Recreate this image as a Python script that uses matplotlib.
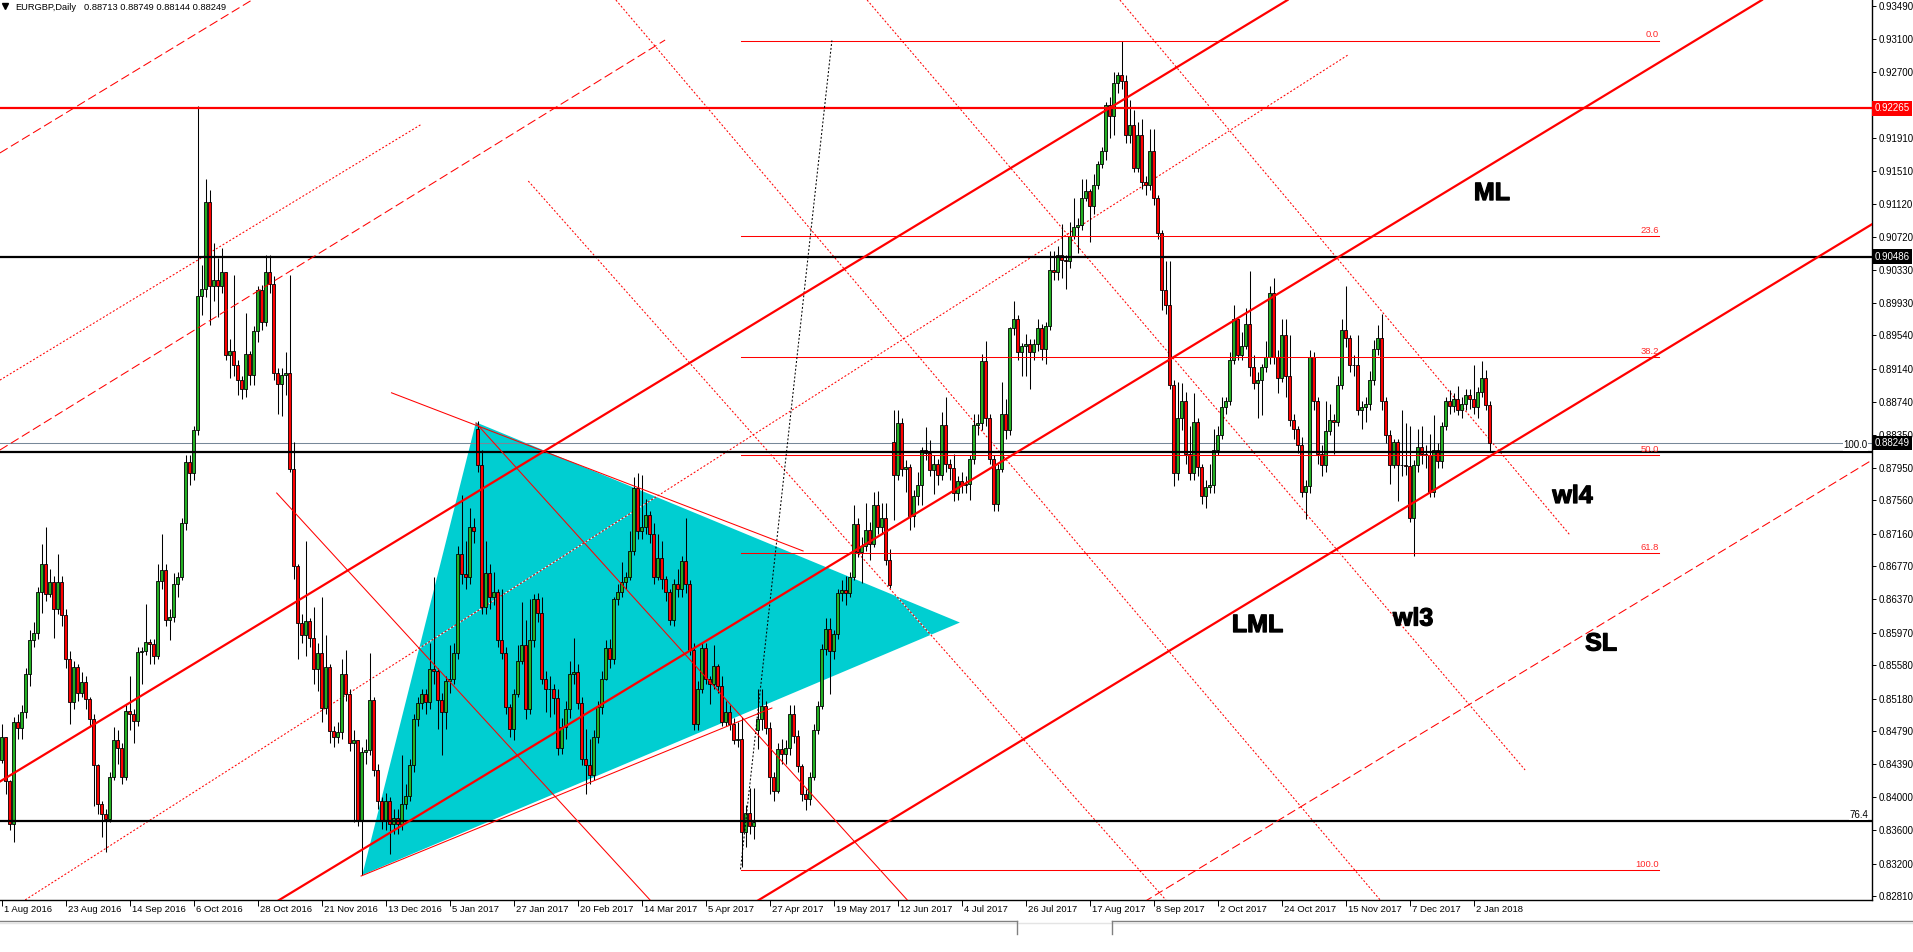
import numpy as np
import matplotlib
matplotlib.use("Agg")
import matplotlib.pyplot as plt
import matplotlib.patheffects as pe
from matplotlib.patches import Polygon
from matplotlib.lines import Line2D
from matplotlib.transforms import blended_transform_factory, offset_copy

plt.rcParams["font.family"] = ["Liberation Sans", "DejaVu Sans"]
plt.rcParams["lines.scale_dashes"] = False

# ---- EURGBP daily candles, prices in pips (x 1e-4) ----
first_open = 8444
closes = [
    8472, 8419, 8367, 8490, 8483, 8502, 8548, 8588, 8597, 8646,
    8680, 8643, 8658, 8625, 8658, 8618, 8566, 8514, 8556, 8525,
    8538, 8517, 8493, 8438, 8392, 8379, 8374, 8424, 8468, 8459,
    8424, 8503, 8499, 8491, 8574, 8575, 8586, 8584, 8569, 8659,
    8672, 8612, 8616, 8655, 8664, 8729, 8802, 8789, 8840, 9001,
    9010, 9114, 9013, 9021, 9013, 9030, 8931, 8935, 8918, 8901,
    8890, 8932, 8906, 8959, 9009, 8970, 9030, 9016, 8909, 8896,
    8906, 8909, 8794, 8677, 8609, 8594, 8611, 8591, 8554, 8573,
    8507, 8556, 8479, 8472, 8478, 8548, 8524, 8465, 8468, 8371,
    8454, 8456, 8516, 8432, 8395, 8371, 8395, 8368, 8375, 8368,
    8392, 8401, 8438, 8493, 8513, 8523, 8514, 8554, 8551, 8516,
    8502, 8539, 8542, 8573, 8692, 8667, 8664, 8724, 8719, 8799,
    8628, 8669, 8640, 8646, 8588, 8573, 8508, 8481, 8524, 8563,
    8582, 8505, 8588, 8637, 8621, 8542, 8530, 8530, 8519, 8459,
    8484, 8505, 8548, 8550, 8513, 8446, 8438, 8426, 8472, 8508,
    8542, 8579, 8565, 8637, 8646, 8658, 8664, 8695, 8771, 8719,
    8724, 8738, 8715, 8664, 8687, 8661, 8646, 8612, 8655, 8649,
    8683, 8655, 8576, 8487, 8530, 8579, 8542, 8536, 8557, 8533,
    8490, 8502, 8487, 8468, 8470, 8358, 8381, 8365, 8370, 8493,
    8509, 8483, 8424, 8407, 8457, 8452, 8459, 8500, 8473, 8437,
    8404, 8398, 8424, 8480, 8509, 8577, 8602, 8575, 8595, 8645,
    8648, 8645, 8664, 8728, 8694, 8701, 8720, 8704, 8750, 8724,
    8735, 8684, 8654, 8786, 8849, 8794, 8796, 8737, 8761, 8774,
    8816, 8813, 8793, 8800, 8786, 8847, 8800, 8795, 8765, 8779,
    8775, 8776, 8806, 8847, 8849, 8923, 8855, 8806, 8752, 8794,
    8860, 8840, 8963, 8974, 8934, 8941, 8944, 8934, 8944, 8963,
    8938, 8965, 9033, 9030, 9051, 9044, 9043, 9073, 9084, 9086,
    9119, 9127, 9109, 9135, 9160, 9175, 9231, 9217, 9257, 9267,
    9260, 9194, 9207, 9155, 9194, 9138, 9135, 9175, 9119, 9077,
    9009, 8990, 8895, 8789, 8855, 8875, 8812, 8789, 8850, 8796,
    8761, 8772, 8774, 8816, 8835, 8868, 8875, 8924, 8974, 8931,
    8941, 8968, 8916, 8897, 8901, 8916, 8928, 9005, 8928, 8903,
    8954, 8905, 8852, 8842, 8822, 8766, 8773, 8928, 8875, 8812,
    8798, 8839, 8853, 8850, 8895, 8961, 8951, 8919, 8918, 8864,
    8868, 8872, 8901, 8938, 8951, 8875, 8835, 8799, 8826, 8799,
    8798, 8797, 8735, 8798, 8820, 8812, 8811, 8766, 8816, 8803,
    8845, 8875, 8869, 8878, 8865, 8872, 8882, 8878, 8868, 8886,
    8903, 8871, 8825,
]
highs = [
    8487, 8470, 8420, 8496, 8500, 8510, 8555, 8600, 8610, 8652,
    8704, 8724, 8673, 8665, 8692, 8665, 8625, 8575, 8563, 8560,
    8550, 8545, 8520, 8500, 8440, 8395, 8385, 8430, 8484, 8480,
    8465, 8510, 8545, 8505, 8580, 8580, 8631, 8590, 8590, 8680,
    8716, 8680, 8625, 8669, 8670, 8735, 8811, 8810, 8845, 9229,
    9038, 9142, 9129, 9065, 9047, 9059, 9028, 8950, 9027, 8925,
    8905, 8981, 8935, 8965, 9013, 9015, 9050, 9050, 9025, 8915,
    8915, 8934, 9027, 8826, 8680, 8620, 8707, 8615, 8628, 8585,
    8640, 8594, 8560, 8485, 8490, 8566, 8576, 8530, 8480, 8465,
    8460, 8470, 8573, 8520, 8440, 8400, 8405, 8400, 8385, 8385,
    8450, 8415, 8445, 8500, 8520, 8530, 8530, 8585, 8664, 8555,
    8525, 8545, 8582, 8585, 8701, 8762, 8707, 8747, 8735, 8851,
    8817, 8707, 8680, 8670, 8650, 8649, 8580, 8512, 8530, 8582,
    8634, 8612, 8637, 8643, 8645, 8640, 8551, 8545, 8535, 8530,
    8495, 8515, 8563, 8591, 8560, 8520, 8481, 8470, 8480, 8515,
    8551, 8588, 8590, 8640, 8655, 8682, 8670, 8719, 8784, 8789,
    8786, 8758, 8743, 8729, 8716, 8707, 8665, 8650, 8662, 8673,
    8689, 8735, 8660, 8585, 8539, 8585, 8585, 8545, 8582, 8560,
    8545, 8515, 8510, 8495, 8490, 8496, 8390, 8411, 8411, 8529,
    8529, 8515, 8490, 8430, 8465, 8470, 8468, 8510, 8510, 8480,
    8440, 8410, 8430, 8487, 8515, 8583, 8615, 8615, 8600, 8650,
    8660, 8665, 8670, 8750, 8735, 8712, 8753, 8730, 8766, 8767,
    8753, 8753, 8697, 8865, 8864, 8855, 8805, 8800, 8768, 8790,
    8820, 8844, 8829, 8810, 8806, 8862, 8880, 8806, 8812, 8785,
    8790, 8785, 8810, 8860, 8860, 8932, 8947, 8860, 8810, 8800,
    8898, 8878, 8964, 8995, 8978, 8945, 8956, 8950, 8950, 8974,
    8968, 8970, 9055, 9055, 9061, 9088, 9050, 9090, 9119, 9095,
    9142, 9142, 9130, 9148, 9163, 9180, 9234, 9240, 9270, 9270,
    9307, 9267, 9237, 9225, 9210, 9214, 9145, 9202, 9202, 9122,
    9080, 9043, 9043, 8900, 8898, 8897, 8886, 8845, 8885, 8855,
    8800, 8780, 8800, 8842, 8845, 8880, 8880, 8934, 8991, 8974,
    8958, 8987, 9031, 8931, 8910, 8920, 8947, 9013, 9023, 8937,
    8974, 8974, 8954, 8860, 8845, 8832, 8780, 8937, 8934, 8880,
    8822, 8875, 8872, 8860, 8905, 8974, 9013, 8954, 8930, 8954,
    8875, 8880, 8911, 8948, 8967, 8980, 8880, 8840, 8830, 8830,
    8865, 8849, 8845, 8805, 8842, 8845, 8822, 8836, 8858, 8825,
    8850, 8880, 8888, 8885, 8893, 8880, 8890, 8890, 8918, 8892,
    8923, 8912, 8875,
]
lows = [
    8441, 8404, 8360, 8346, 8470, 8470, 8495, 8533, 8580, 8590,
    8621, 8635, 8640, 8591, 8620, 8605, 8555, 8487, 8505, 8515,
    8520, 8505, 8485, 8389, 8380, 8352, 8334, 8370, 8420, 8440,
    8415, 8420, 8480, 8465, 8485, 8536, 8570, 8560, 8560, 8565,
    8650, 8605, 8588, 8610, 8640, 8660, 8720, 8775, 8780, 8835,
    8979, 9000, 8967, 8995, 8976, 9005, 8925, 8903, 8905, 8882,
    8878, 8880, 8895, 8894, 8946, 8960, 8965, 9005, 8900, 8860,
    8857, 8882, 8790, 8661, 8566, 8585, 8569, 8580, 8536, 8527,
    8490, 8500, 8465, 8460, 8465, 8470, 8515, 8455, 8370, 8365,
    8306, 8440, 8450, 8425, 8385, 8361, 8360, 8331, 8355, 8355,
    8360, 8385, 8395, 8430, 8485, 8505, 8500, 8505, 8535, 8481,
    8450, 8481, 8525, 8535, 8565, 8655, 8650, 8655, 8705, 8790,
    8620, 8620, 8625, 8630, 8580, 8565, 8499, 8472, 8468, 8520,
    8560, 8493, 8500, 8580, 8610, 8535, 8502, 8496, 8500, 8450,
    8452, 8470, 8495, 8535, 8505, 8438, 8404, 8415, 8420, 8465,
    8500, 8540, 8555, 8560, 8630, 8640, 8650, 8660, 8690, 8710,
    8710, 8715, 8705, 8655, 8660, 8650, 8635, 8606, 8605, 8640,
    8640, 8645, 8570, 8480, 8480, 8525, 8535, 8511, 8530, 8525,
    8485, 8485, 8480, 8463, 8460, 8316, 8340, 8355, 8350, 8457,
    8480, 8475, 8404, 8395, 8405, 8440, 8440, 8450, 8465, 8430,
    8395, 8384, 8390, 8420, 8475, 8505, 8570, 8523, 8565, 8590,
    8635, 8630, 8640, 8660, 8688, 8657, 8695, 8684, 8700, 8715,
    8715, 8678, 8651, 8732, 8780, 8785, 8766, 8720, 8724, 8750,
    8750, 8805, 8785, 8763, 8775, 8780, 8790, 8780, 8755, 8756,
    8765, 8765, 8756, 8800, 8835, 8840, 8845, 8800, 8743, 8743,
    8790, 8830, 8835, 8955, 8925, 8905, 8905, 8890, 8925, 8935,
    8925, 8920, 8960, 9020, 9020, 9023, 9010, 9035, 9070, 9053,
    9080, 9115, 9066, 9100, 9130, 9155, 9165, 9191, 9195, 9245,
    9250, 9185, 9185, 9150, 9150, 9130, 9122, 9128, 9110, 9070,
    8984, 8980, 8890, 8773, 8780, 8840, 8800, 8780, 8780, 8785,
    8752, 8747, 8765, 8765, 8810, 8830, 8860, 8870, 8920, 8925,
    8925, 8938, 8905, 8890, 8855, 8858, 8910, 8920, 8920, 8885,
    8898, 8880, 8845, 8830, 8813, 8760, 8733, 8765, 8865, 8800,
    8785, 8790, 8835, 8812, 8845, 8890, 8940, 8910, 8905, 8858,
    8842, 8850, 8865, 8895, 8930, 8865, 8825, 8776, 8795, 8755,
    8785, 8786, 8730, 8689, 8790, 8800, 8795, 8760, 8760, 8795,
    8795, 8840, 8860, 8862, 8858, 8855, 8865, 8866, 8860, 8855,
    8880, 8865, 8814,
]
# weekend gaps (open differs from previous close)
gap_opens = {119: 8842, 189: 8480, 223: 8826}

date_labels = ["1 Aug 2016", "23 Aug 2016", "14 Sep 2016", "6 Oct 2016", "28 Oct 2016",
               "21 Nov 2016", "13 Dec 2016", "5 Jan 2017", "27 Jan 2017", "20 Feb 2017",
               "14 Mar 2017", "5 Apr 2017", "27 Apr 2017", "19 May 2017", "12 Jun 2017",
               "4 Jul 2017", "26 Jul 2017", "17 Aug 2017", "8 Sep 2017", "2 Oct 2017",
               "24 Oct 2017", "15 Nov 2017", "7 Dec 2017", "2 Jan 2018"]
date_step = 16

price_ticks = [0.93490, 0.93100, 0.92700, 0.91910, 0.91510, 0.91120, 0.90720, 0.90330,
               0.89930, 0.89540, 0.89140, 0.88740, 0.88350, 0.87950, 0.87560, 0.87160,
               0.86770, 0.86370, 0.85970, 0.85580, 0.85180, 0.84790, 0.84390, 0.84000,
               0.83600, 0.83200, 0.82810]

# horizontal levels
red_level = 0.92265
black_levels = [0.90486, 0.88144, 0.8371]
bid = 0.88249

# fibonacci retracement (anchors: bar, price)
fib_start, fib_end = 184.75, 414.4
fib_high, fib_low = 0.9308, 0.8312
fib_ratios = [0.0, 23.6, 38.2, 50.0, 61.8, 100.0]

# triangle vertices (bar, price)
triangle = [(90.2, 0.83062), (118.6, 0.88497), (239.6, 0.86093)]

# pitchfork style lines: (bar0, price0, bar1, price1)
thick_lines = [
    (-0.4, 0.84184, 321.5, 0.93566),   # upper
    (68.6, 0.82738, 440.1, 0.93566),   # ML
    (188.5, 0.82738, 467.6, 0.90874),  # LML
]
dashed_lines = [
    (-0.4, 0.91730, 62.6, 0.93566),
    (-0.4, 0.88164, 165.9, 0.93086),
    (285.6, 0.82738, 467.6, 0.88043),  # SL
]
dotted_lines = [
    (-0.4, 0.89003, 105.0, 0.92075),
    (5.1, 0.82738, 336.6, 0.92906),
    (131.7, 0.91393, 291.1, 0.82762),
    (153.6, 0.93566, 345.1, 0.82738),
    (216.4, 0.93566, 380.9, 0.84323),   # wl3
    (279.6, 0.93566, 392.1, 0.87144),   # wl4
]
thin_lines = [
    (97.5, 0.88851, 200.4, 0.86952),
    (89.9, 0.83050, 192.6, 0.85067),
    (68.8, 0.87648, 162.6, 0.82738),
    (118.6, 0.88488, 226.9, 0.82738),
]
fib_trend = (184.75, 0.8313, 207.6, 0.9308)

labels = [("ML", 372.6, 0.91249), ("LML", 314.0, 0.86063), ("wl3", 352.9, 0.86141),
          ("wl4", 392.75, 0.87612), ("SL", 399.9, 0.85841)]

RED = "#ff0000"
GREEN = "#22b022"
CYAN = "#00ced1"

W, H = 1913, 952
PLOT_H = 900
fig = plt.figure(figsize=(W / 100, H / 100), dpi=100)
fig.patch.set_facecolor("white")
ax = fig.add_axes([0, (H - PLOT_H) / H, 1872 / W, PLOT_H / H])
ax.set_xlim(-0.375, 467.625)
ax.set_ylim(0.82762, 0.935664)

# candles
c = np.array(closes) / 1e4
o = np.array([first_open] + closes[:-1], dtype=float)
for k, v in gap_opens.items():
    o[k] = v
o = o / 1e4
h = np.maximum(np.array(highs) / 1e4, np.maximum(o, c))
l = np.minimum(np.array(lows) / 1e4, np.minimum(o, c))
x = np.arange(len(c))
up = c >= o

# triangle in background
ax.add_patch(Polygon(triangle, closed=True, facecolor=CYAN, edgecolor="none", zorder=1))

ax.vlines(x, l, h, color="black", lw=0.75, zorder=3)
ax.bar(x[up], (c - o)[up], bottom=o[up], width=0.72, color=GREEN,
       edgecolor="black", linewidth=0.6, zorder=3.5)
ax.bar(x[~up], (c - o)[~up], bottom=o[~up], width=0.72, color=RED,
       edgecolor="black", linewidth=0.6, zorder=3.5)

# horizontal lines
ax.axhline(bid, color="#778899", lw=0.75, zorder=2)
ax.axhline(red_level, color=RED, lw=1.6, zorder=4)
for lv in black_levels:
    ax.axhline(lv, color="black", lw=1.6, zorder=4)

# fib levels
for r in fib_ratios:
    p = fib_high - (fib_high - fib_low) * r / 100
    ax.plot([fib_start, fib_end], [p, p], color=RED, lw=0.75, zorder=4)
    ax.annotate(f"{r:.1f}", (fib_end, p), xytext=(0, 0.8), textcoords="offset points",
                ha="right", va="bottom", fontsize=6.8, color="#ff2a2a", zorder=5)
ax.plot(fib_trend[::2], fib_trend[1::2], color="black", lw=0.75,
        ls=(0, (1.4, 1.4)), zorder=4)

for b0, p0, b1, p1 in thick_lines:
    ax.plot([b0, b1], [p0, p1], color=RED, lw=1.6, zorder=4)
for b0, p0, b1, p1 in dashed_lines:
    ax.plot([b0, b1], [p0, p1], color=RED, lw=0.75, ls=(0, (6.5, 2.8)), zorder=4)
for b0, p0, b1, p1 in dotted_lines:
    ax.plot([b0, b1], [p0, p1], color=RED, lw=0.75, ls=(0, (1.4, 1.4)),
            gapcolor="white", zorder=2.5)
for b0, p0, b1, p1 in thin_lines:
    ax.plot([b0, b1], [p0, p1], color=RED, lw=0.75, zorder=4)

for txt, bx, py in labels:
    ax.text(bx, py, txt, fontsize=18, fontweight="bold", ha="center", va="center",
            color="black", zorder=6,
            path_effects=[pe.withStroke(linewidth=0.9, foreground="black")])

# level captions at right edge
ax.annotate("76.4", (466.6, black_levels[2]), xytext=(0, 1), textcoords="offset points",
            ha="right", va="bottom", fontsize=7, color="black", zorder=6,
            bbox=dict(facecolor="white", edgecolor="none", pad=0.3))
ax.annotate("100.0", (466.6, black_levels[1]), xytext=(0, 1), textcoords="offset points",
            ha="right", va="bottom", fontsize=7, color="black", zorder=6,
            bbox=dict(facecolor="white", edgecolor="none", pad=0.3))

# axes styling
for s in ["top", "left"]:
    ax.spines[s].set_visible(False)
for s in ["right", "bottom"]:
    ax.spines[s].set_linewidth(1.0)
    ax.spines[s].set_color("black")
ax.yaxis.tick_right()
ax.set_yticks(price_ticks)
ax.set_yticklabels([f"{v:.5f}" for v in price_ticks])
ax.tick_params(axis="y", direction="out", length=3, width=0.7, pad=2, labelsize=7)
ax.set_xticks(np.arange(len(date_labels)) * date_step)
ax.set_xticklabels([])
ax.tick_params(axis="x", direction="out", length=4, width=0.7)
tb = blended_transform_factory(ax.transData, ax.transAxes)
for i, d in enumerate(date_labels):
    ax.text(i * date_step, 0, d, transform=offset_copy(tb, fig=fig, x=2, y=-9, units="dots"),
            ha="left", va="center", fontsize=6.8, clip_on=False)

# price boxes on the axis
ty = blended_transform_factory(ax.transAxes, ax.transData)
for val, bg in [(red_level, RED), (black_levels[0], "black"), (bid, "black")]:
    ax.text(1.0015, val, f"{val:.5f}", transform=ty, ha="left", va="center", fontsize=7,
            color="white", zorder=7, clip_on=False,
            bbox=dict(facecolor=bg, edgecolor="none", boxstyle="square,pad=0.25"))

# header
ax.plot([5 / 1872], [1 - 6 / PLOT_H], marker="v", ms=4.5, color="black",
        transform=ax.transAxes, clip_on=False)
fig.text(15 / W, 1 - 7 / H, "EURGBP,Daily", fontsize=6.7, ha="left", va="center")
fig.text(84 / W, 1 - 7 / H, "0.88713 0.88749 0.88144 0.88249", fontsize=6.7,
         ha="left", va="center")

# tab strip under the chart
yl = 1 - 921 / H
fig.add_artist(Line2D([0, 1017 / W], [yl, yl], color="#808080", lw=1.0))
fig.add_artist(Line2D([1112 / W, 1], [yl, yl], color="#808080", lw=1.0))
fig.add_artist(Line2D([0, 1], [yl - 1.5 / H] * 2, color="#e4e4e4", lw=1.0))
fig.add_artist(Line2D([1017 / W] * 2, [yl, 1 - 934 / H], color="#808080", lw=1.0))
fig.add_artist(Line2D([1112 / W] * 2, [yl, 1 - 934 / H], color="#808080", lw=1.0))

fig.savefig("out.png", dpi=100, facecolor="white")
